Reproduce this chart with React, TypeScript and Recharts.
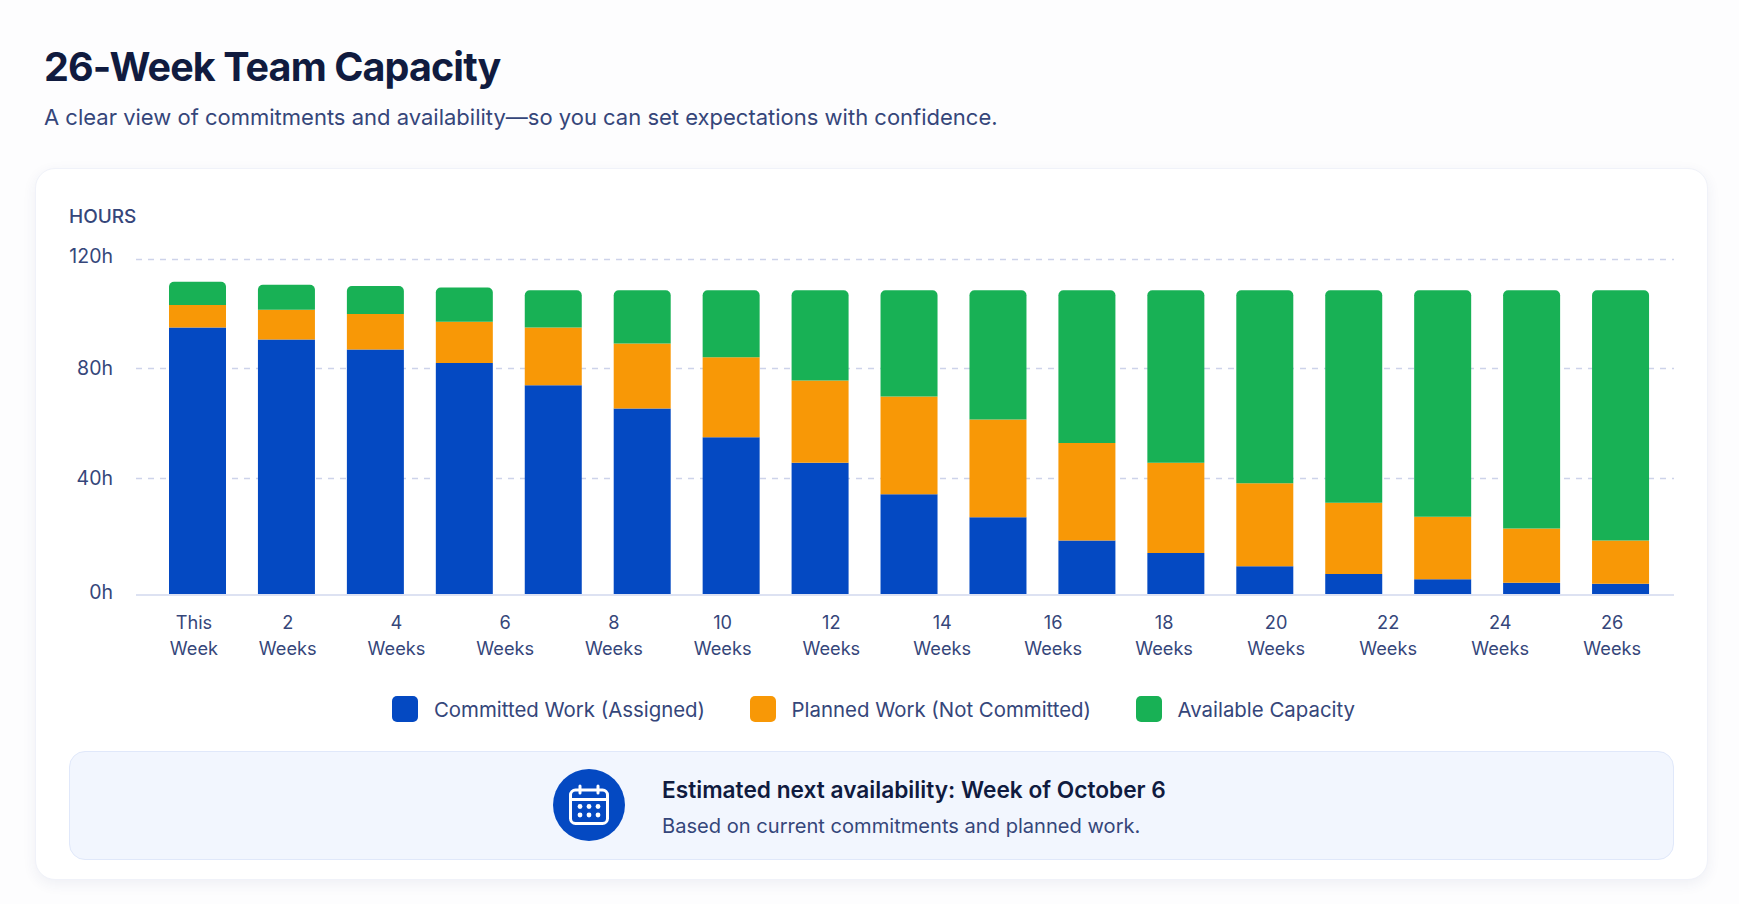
import React from 'react';
import { BarChart, Bar, XAxis, YAxis, CartesianGrid, Legend } from 'recharts';

// one entry per bar in the picture
const periods = ['P1', 'P2', 'P3', 'P4', 'P5', 'P6', 'P7', 'P8', 'P9', 'P10', 'P11', 'P12', 'P13', 'P14', 'P15', 'P16', 'P17'];
const committed = [95.7, 91.4, 87.8, 83, 75, 66.7, 56.4, 47.3, 36, 27.8, 19.5, 15, 10.3, 7.5, 5.6, 4.4, 4];
const planned = [8, 10.6, 12.7, 14.7, 20.7, 23.3, 28.6, 29.4, 35, 35, 34.9, 32.3, 29.7, 25.5, 22.4, 19.4, 15.5];
const available = [8.3, 9, 10, 12.3, 13.3, 19, 24, 32.3, 38, 46.2, 54.6, 61.7, 69, 76, 81, 85.2, 89.5];

// the week labels do not line up with the bars, so they sit on their own week axis
const weekTicks = [0.3, 2, 3.97, 5.94, 7.91, 9.88, 11.85, 13.86, 15.87, 17.88, 19.91, 21.94, 23.97, 26];
const weekTop = ['This', '2', '4', '6', '8', '10', '12', '14', '16', '18', '20', '22', '24', '26'];
const weekBottom = ['Week', 'Weeks', 'Weeks', 'Weeks', 'Weeks', 'Weeks', 'Weeks', 'Weeks', 'Weeks', 'Weeks', 'Weeks', 'Weeks', 'Weeks', 'Weeks'];

// the 40h and 80h lines in the picture sit slightly above an even spacing
const hourTicks = [0, 41.7, 81, 120];
const hourLabels = ['0h', '40h', '80h', '120h'];

const data = periods.map((period, i) => ({
  period,
  committed: committed[i],
  planned: planned[i],
  available: available[i],
}));

const FONT = 'Inter, sans-serif';
const BLUE = '#0449c2';
const ORANGE = '#f89806';
const GREEN = '#18b155';
const INK = '#101b3f';
const MUTED = '#35467a';

// the week axis only carries labels, but recharts ignores its domain without a dataKey
const weekKey = () => 0;

const WeekTick = ({ x, y, payload }: any) => {
  const i = weekTicks.indexOf(payload.value);
  return (
    <text x={x} textAnchor="middle" fontFamily={FONT} fontSize={18.2} fill={MUTED}>
      <tspan x={x} y={y + 31.5}>{weekTop[i]}</tspan>
      <tspan x={x} y={y + 58}>{weekBottom[i]}</tspan>
    </text>
  );
};

const HourTick = ({ x, y, payload }: any) => {
  const i = hourTicks.indexOf(payload.value);
  const lift = i === 0 || i === 3 ? 3 : 0;
  return (
    <text x={x} y={y - lift} dy="0.355em" textAnchor="end" fontFamily={FONT} fontSize={19.5} fill={MUTED}>
      {hourLabels[i]}
    </text>
  );
};

const LegendRow = ({ payload }: any) => (
  <div style={{ display: 'flex', justifyContent: 'center', alignItems: 'center', height: 36, paddingLeft: 37, fontFamily: FONT, fontSize: 20.4, color: MUTED }}>
    {(payload || []).map((item: any, i: number) => (
      <div key={item.value} style={{ display: 'flex', alignItems: 'center', marginLeft: i ? 44.5 : 0 }}>
        <span style={{ width: 26, height: 26, borderRadius: 5, background: item.color, marginRight: 16 }} />
        {item.value}
      </div>
    ))}
  </div>
);

const CalendarIcon = () => (
  <svg width={42} height={42} viewBox="0 0 42 42" fill="none" stroke="#fff" strokeWidth={3} strokeLinecap="round">
    <rect x={2.5} y={6} width={37} height={33.5} rx={5} />
    <path d="M2.5 15.5H39.5M12 2V9M30 2V9" />
    <g fill="#fff" stroke="none">
      {[12, 21, 30].map((cx) => <circle key={cx} cx={cx} cy={22.5} r={2.4} />)}
      {[12, 21, 30].map((cx) => <circle key={cx} cx={cx} cy={31} r={2.4} />)}
    </g>
  </svg>
);

export default function App() {
  return (
    <div style={{ position: 'absolute', left: 0, top: 0, width: 1739, height: 904, background: '#fdfdfe', fontFamily: FONT, overflow: 'hidden' }}>
      <div style={{ position: 'absolute', left: 44, top: 41, fontSize: 39.5, lineHeight: '52px', fontWeight: 700, color: INK, letterSpacing: -0.9, whiteSpace: 'nowrap' }}>
        26-Week Team Capacity
      </div>
      <div style={{ position: 'absolute', left: 44, top: 101, fontSize: 22, lineHeight: '32px', color: MUTED, whiteSpace: 'nowrap' }}>
        A clear view of commitments and availability—so you can set expectations with confidence.
      </div>

      <div style={{ position: 'absolute', left: 35, top: 168, width: 1673, height: 712, boxSizing: 'border-box', background: '#fff', border: '1px solid #f0f2f9', borderRadius: 20, boxShadow: '0 4px 14px rgba(40,60,120,0.07)' }}>
        <div style={{ position: 'absolute', left: 33, top: 35, fontSize: 19, lineHeight: '26px', fontWeight: 500, color: MUTED }}>HOURS</div>

        <BarChart
          width={1671}
          height={570}
          data={data}
          margin={{ top: 90.5, right: 33, bottom: 12, left: 0 }}
          barCategoryGap={0}
          style={{ position: 'absolute', left: 0, top: 0 }}
        >
          <CartesianGrid xAxisId="bars" vertical={false} stroke="#cdd3ea" strokeWidth={1.5} strokeDasharray="6 6" />
          <XAxis xAxisId="bars" dataKey="period" hide height={0} padding={{ left: 17, right: 9 }} />
          <XAxis
            xAxisId="labels"
            dataKey={weekKey}
            type="number"
            domain={[-0.75, 27.12]}
            allowDataOverflow
            ticks={weekTicks}
            interval={0}
            height={96}
            tickLine={false}
            tickSize={0}
            axisLine={{ stroke: '#dde2f2', strokeWidth: 2 }}
            tick={<WeekTick />}
          />
          <YAxis
            domain={[0, 120]}
            ticks={hourTicks}
            interval={0}
            width={100}
            axisLine={false}
            tickLine={false}
            tickSize={0}
            tickMargin={23}
            tick={<HourTick />}
          />
          <Legend verticalAlign="bottom" height={36} itemSorter={null} content={<LegendRow />} />
          <Bar xAxisId="bars" dataKey="committed" name="Committed Work (Assigned)" stackId="hours" fill={BLUE} barSize={57} isAnimationActive={false} />
          <Bar xAxisId="bars" dataKey="planned" name="Planned Work (Not Committed)" stackId="hours" fill={ORANGE} barSize={57} isAnimationActive={false} />
          <Bar xAxisId="bars" dataKey="available" name="Available Capacity" stackId="hours" fill={GREEN} barSize={57} radius={[5, 5, 0, 0]} isAnimationActive={false} />
        </BarChart>

        <div style={{ position: 'absolute', left: 33, top: 582, width: 1605, height: 108.5, boxSizing: 'border-box', background: '#f2f6fe', border: '1.5px solid #e0e8fa', borderRadius: 16 }}>
          <div style={{ position: 'absolute', left: 483, top: 17, width: 72, height: 72, borderRadius: '50%', background: BLUE, display: 'flex', alignItems: 'center', justifyContent: 'center' }}>
            <CalendarIcon />
          </div>
          <div style={{ position: 'absolute', left: 592, top: 22, fontSize: 22.7, lineHeight: '32px', fontWeight: 600, color: INK, whiteSpace: 'nowrap' }}>
            Estimated next availability: Week of October 6
          </div>
          <div style={{ position: 'absolute', left: 592, top: 60, fontSize: 20.1, lineHeight: '28px', color: MUTED, whiteSpace: 'nowrap' }}>
            Based on current commitments and planned work.
          </div>
        </div>
      </div>
    </div>
  );
}
